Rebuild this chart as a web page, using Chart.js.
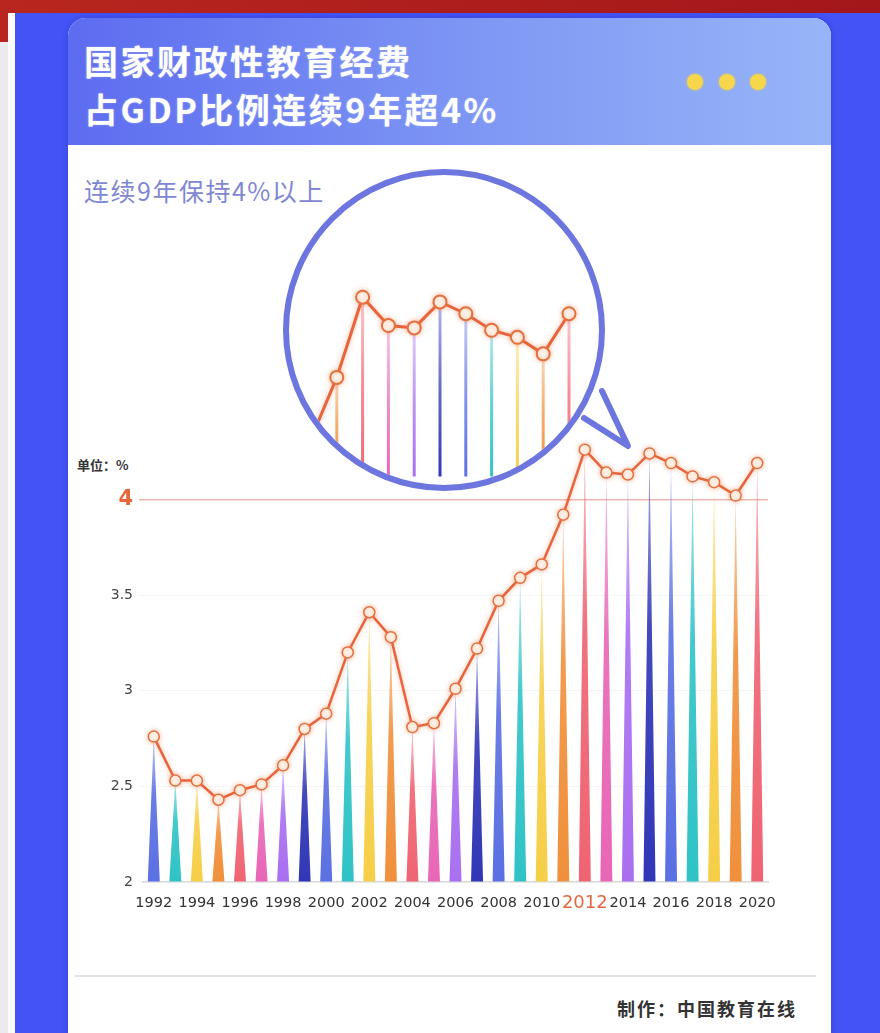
<!DOCTYPE html>
<html><head><meta charset="utf-8">
<script src="https://cdn.jsdelivr.net/npm/chart.js@4.4.1/dist/chart.umd.min.js"></script>
<style>
html,body{margin:0;padding:0;}
body{width:880px;height:1033px;position:relative;overflow:hidden;background:#4453f5;font-family:"Noto Sans CJK SC","Noto Sans",sans-serif;}
.abs{position:absolute;}
#redTop{left:0;top:0;width:880px;height:13px;background:linear-gradient(90deg,#b9261f,#a3161a);}
#redLeft{left:0;top:0;width:8px;height:42px;background:#b9261f;}
#greyLeft{left:0;top:42px;width:8px;height:991px;background:#ebebeb;}
#whiteLeft{left:8px;top:13px;width:7px;height:1020px;background:#fbfbfb;}
#card{left:68px;top:18px;width:763px;height:1040px;background:#fff;border-radius:18px 18px 0 0;overflow:hidden;box-shadow:0 0 6px rgba(20,30,140,0.3);}
#header{position:absolute;left:0;top:0;width:763px;height:127px;background:linear-gradient(90deg,#5d6cf0 0%,#7f98f4 55%,#97b5f8 100%);}
.title{color:#fff;font-weight:700;font-size:34px;letter-spacing:2.5px;white-space:nowrap;line-height:34px;left:84px;text-shadow:0 0 2px rgba(255,255,255,0.4);}
.dot{width:16px;height:16px;border-radius:50%;background:#f6d64a;top:74px;box-shadow:0 0 3px rgba(246,214,74,0.7);}
#sub{left:84px;top:175px;font-size:25px;line-height:30px;color:#7f87d3;letter-spacing:1.5px;white-space:nowrap;}
#unit{left:77px;top:456px;font-size:13px;line-height:18px;color:#333;font-weight:700;white-space:nowrap;}
#foot{left:617px;top:995px;font-size:18px;line-height:26px;color:#333;font-weight:700;letter-spacing:2px;white-space:nowrap;}
#rule{left:75px;top:975px;width:741px;height:2px;background:#e2e2e2;}
#main{left:0;top:0;}
#lens{left:289px;top:175px;width:310px;height:310px;border-radius:50%;overflow:hidden;background:#fff;}
#ring{left:0;top:0;}
</style></head>
<body>
<div id="redTop" class="abs"></div>
<div id="redLeft" class="abs"></div>
<div id="greyLeft" class="abs"></div>
<div id="whiteLeft" class="abs"></div>
<div id="card" class="abs"><div id="header"></div></div>
<div class="abs title" style="top:44px;">国家财政性教育经费</div>
<div class="abs title" style="top:92px;">占GDP比例连续9年超4%</div>
<div class="abs dot" style="left:687px;"></div>
<div class="abs dot" style="left:719px;"></div>
<div class="abs dot" style="left:750px;"></div>
<div id="sub" class="abs">连续9年保持4%以上</div>
<div id="unit" class="abs">单位：%</div>
<div id="rule" class="abs"></div>
<div id="foot" class="abs">制作：中国教育在线</div>
<canvas id="main" class="abs" width="880" height="1033"></canvas>
<div id="lens" class="abs"><canvas id="lensChart" width="310" height="310"></canvas></div>
<svg id="ring" class="abs" width="880" height="1033">
  <circle cx="444" cy="330" r="158" fill="none" stroke="#6d76de" stroke-width="6"/>
  <path d="M 584 418 L 628 446 L 602 391" fill="none" stroke="#6d76de" stroke-width="6" stroke-linejoin="round" stroke-linecap="round"/>
</svg>
<script>
// ---- data ----
const years = ['1992','1993','1994','1995','1996','1997','1998','1999','2000','2001','2002','2003','2004','2005','2006','2007','2008','2009','2010','2011','2012','2013','2014','2015','2016','2017','2018','2019','2020'];
const ratio = [2.76,2.53,2.53,2.43,2.48,2.51,2.61,2.80,2.88,3.20,3.41,3.28,2.81,2.83,3.01,3.22,3.47,3.59,3.66,3.92,4.26,4.14,4.13,4.24,4.19,4.12,4.09,4.02,4.19];
const xTickLabels = ['1992','1994','1996','1998','2000','2002','2004','2006','2008','2010','2012','2014','2016','2018','2020'];
const yTickValues = [2,2.5,3,3.5,4];
const yTickLabels = ['2','2.5','3','3.5','4'];
const highlightYear = '2012';
const thresholdValue = 4;
const zoomRange = ['2010','2020'];
const zoomValueRange = [3.5,4.6];
const palette = ['#5b70e2','#2fc3c6','#f6cf48','#f0903c','#ef6472','#e866b6','#a96ff0','#3136b6'];

function rgba(hex,a){const n=parseInt(hex.slice(1),16);return 'rgba('+(n>>16)+','+((n>>8)&255)+','+(n&255)+','+a+')';}
function isThr(c){return !!(c && c.tick && c.tick.value===thresholdValue);}
function isHi(c){return !!(c && c.index!==undefined && years[c.index]===highlightYear);}

const spikePlugin = {
  id:'spikes',
  afterDatasetDraw(chart,args,opts){
    const ds = chart.data.datasets[args.index];
    if (ds.type !== 'bar') return;
    const ctx = chart.ctx;
    const bottom = chart.chartArea.bottom;
    ctx.save();
    args.meta.data.forEach((el,i)=>{
      const x=el.x,y=el.y,w=el.width;
      const base = Math.min(el.base,bottom);
      if(!isFinite(x)||!isFinite(y)||!isFinite(base)) return;
      const col = palette[i % palette.length];
      const g = ctx.createLinearGradient(0,base,0,y);
      if (opts.shape==='line'){
        g.addColorStop(0,rgba(col,1)); g.addColorStop(0.5,rgba(col,0.75)); g.addColorStop(1,rgba(col,0.35));
      } else {
        g.addColorStop(0,rgba(col,1)); g.addColorStop(0.6,rgba(col,0.9)); g.addColorStop(1,rgba(col,0.4));
      }
      ctx.fillStyle = g;
      ctx.beginPath();
      if (opts.shape==='line'){ ctx.rect(x-w/2,y,w,base-y); }
      else { ctx.moveTo(x-w/2,base); ctx.lineTo(x+w/2,base); ctx.lineTo(x,y); ctx.closePath(); }
      ctx.fill();
    });
    ctx.restore();
  }
};
const glowPlugin = {
  id:'glow',
  beforeDatasetDraw(chart,args){
    if(chart.data.datasets[args.index].type==='line'){const c=chart.ctx;c.save();c.shadowColor='rgba(244,130,80,0.5)';c.shadowBlur=5;}
  },
  afterDatasetDraw(chart,args){
    if(chart.data.datasets[args.index].type==='line'){chart.ctx.restore();}
  }
};

new Chart(document.getElementById('main'),{
  data:{labels:years,datasets:[
    {type:'line',data:ratio,order:0,borderColor:'#e8643c',borderWidth:2.5,pointRadius:5.5,pointBackgroundColor:'#fff8f0',pointBorderColor:'#e3713f',pointBorderWidth:1.5,clip:false,tension:0},
    {type:'bar',data:ratio,order:1,base:yTickValues[0],backgroundColor:'rgba(0,0,0,0)',barThickness:12}
  ]},
  options:{responsive:false,animation:false,devicePixelRatio:1,
    layout:{padding:{left:60,right:112,top:442,bottom:116}},
    plugins:{legend:{display:false},tooltip:{enabled:false},spikes:{shape:'triangle'}},
    scales:{
      x:{grid:{display:false,drawTicks:false},border:{display:true,color:'#dcdcdc',width:1.5},
        ticks:{autoSkip:false,maxRotation:0,minRotation:0,padding:13,
          callback:(v,i)=> xTickLabels.includes(years[i])?years[i]:'',
          color:c=> isHi(c)?'#e4683f':'#333',
          font:c=> isHi(c)?{family:'DejaVu Sans',size:18,lineHeight:0.97}:{family:'DejaVu Sans',size:14.5,lineHeight:1.2}},
        afterFit:s=>{s.height=35;}},
      y:{min:2,max:4.3,
        afterBuildTicks:s=>{s.ticks=yTickValues.map(v=>({value:v}));},
        grid:{color:c=> isThr(c)?'#f2b5ad':'rgba(0,0,0,0.04)',lineWidth:c=> isThr(c)?1.5:1,drawTicks:true,tickLength:4},
        border:{display:false},
        ticks:{padding:6,
          callback:(v)=>{const k=yTickValues.indexOf(v);return k>=0?yTickLabels[k]:'';},
          color:c=> isThr(c)?'#e8653a':'#444',
          font:c=> isThr(c)?{family:'DejaVu Sans',size:21,weight:'bold'}:{family:'DejaVu Sans',size:14}},
        afterFit:s=>{s.width=83;}}
    }},
  plugins:[spikePlugin,glowPlugin]
});

new Chart(document.getElementById('lensChart'),{
  data:{labels:years,datasets:[
    {type:'line',data:ratio,order:0,borderColor:'#e8643c',borderWidth:3,pointRadius:6.5,pointBackgroundColor:'#fff8f0',pointBorderColor:'#e3713f',pointBorderWidth:2,clip:false,tension:0},
    {type:'bar',data:ratio,order:1,base:zoomValueRange[0],backgroundColor:'rgba(0,0,0,0)',barThickness:3}
  ]},
  options:{responsive:false,animation:false,devicePixelRatio:1,
    layout:{padding:{left:22,right:30,top:42,bottom:8}},
    plugins:{legend:{display:false},tooltip:{enabled:false},spikes:{shape:'line'}},
    scales:{x:{display:false,min:zoomRange[0],max:zoomRange[1],offset:false},y:{display:false,min:zoomValueRange[0],max:zoomValueRange[1]}}
  },
  plugins:[spikePlugin,glowPlugin]
});
</script>
</body></html>
